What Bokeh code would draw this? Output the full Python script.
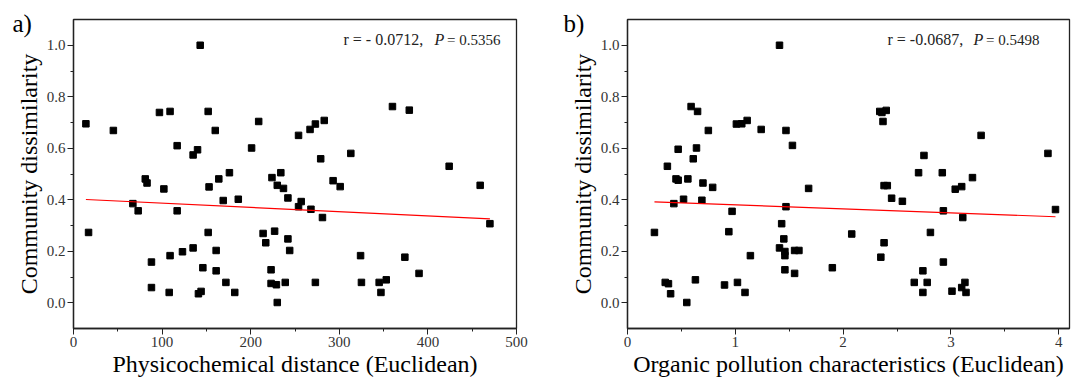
from bokeh.plotting import figure
from bokeh.layouts import row
from bokeh.models import Range1d, Label, FixedTicker, PrintfTickFormatter
from bokeh.core.properties import value
from bokeh.embed import file_html
from bokeh.resources import INLINE

# ---------------- data ----------------
# Panel a: physicochemical distance vs community dissimilarity
a_x = [143, 14, 45, 97, 109, 152, 160, 117, 140, 135,
       209, 201, 81, 83, 102, 153, 164, 176, 169, 186,
       67, 73, 117, 224, 234, 230, 237, 242, 17, 152,
       214, 227, 217, 242, 244, 161, 135, 123, 109, 88,
       146, 161, 172, 182, 88, 108, 141, 144, 223, 223,
       229, 239, 230, 360, 379, 254, 267, 273, 283, 279,
       313, 293, 301, 424, 459, 257, 254, 268, 281, 470,
       324, 374, 390, 273, 325, 345, 353, 347]
a_y = [1.0, 0.695, 0.669, 0.739, 0.743, 0.743, 0.669, 0.610, 0.594, 0.574,
       0.704, 0.601, 0.481, 0.465, 0.442, 0.450, 0.481, 0.505, 0.397, 0.402,
       0.385, 0.357, 0.357, 0.486, 0.505, 0.456, 0.444, 0.407, 0.273, 0.273,
       0.269, 0.278, 0.233, 0.248, 0.203, 0.203, 0.213, 0.198, 0.183, 0.158,
       0.136, 0.124, 0.079, 0.040, 0.059, 0.040, 0.035, 0.044, 0.128, 0.075,
       0.070, 0.079, 0.001, 0.762, 0.748, 0.650, 0.673, 0.694, 0.708, 0.559,
       0.580, 0.474, 0.451, 0.530, 0.456, 0.393, 0.373, 0.363, 0.331, 0.307,
       0.183, 0.177, 0.114, 0.079, 0.079, 0.079, 0.089, 0.040]
a_fit_x = [14, 470]
a_fit_y = [0.401, 0.326]
a_xticks = [0, 100, 200, 300, 400, 500]
a_stat = ["r = - 0.0712,", "P", "= 0.5356"]

# Panel b: organic pollution characteristics vs community dissimilarity
b_x = [1.41, 0.59, 0.65, 0.75, 1.01, 1.06, 1.11, 1.24, 1.47, 1.53,
       0.47, 0.64, 0.61, 0.37, 0.45, 0.47, 0.56, 0.70, 0.79, 1.68,
       0.43, 0.52, 0.69, 0.97, 1.47, 0.25, 0.94, 1.43, 1.45, 1.41,
       1.46, 1.46, 1.55, 1.59, 1.14, 1.46, 1.55, 1.90, 0.35, 0.38,
       0.40, 0.63, 0.55, 0.90, 1.02, 1.09, 2.34, 2.40, 2.37, 3.28,
       3.90, 2.75, 2.70, 2.92, 3.20, 3.04, 3.10, 2.38, 2.41, 2.45,
       2.55, 2.93, 3.11, 3.97, 2.08, 2.81, 2.38, 2.35, 2.93, 2.74,
       2.66, 2.78, 2.74, 3.01, 3.13, 3.10, 3.14, 2.36]
b_y = [1.0, 0.762, 0.743, 0.669, 0.694, 0.695, 0.708, 0.673, 0.669, 0.611,
       0.596, 0.601, 0.559, 0.530, 0.481, 0.476, 0.481, 0.465, 0.448, 0.444,
       0.385, 0.402, 0.398, 0.355, 0.373, 0.273, 0.276, 0.307, 0.248, 0.213,
       0.199, 0.183, 0.203, 0.203, 0.183, 0.128, 0.114, 0.136, 0.079, 0.074,
       0.035, 0.089, 0.001, 0.069, 0.079, 0.040, 0.743, 0.747, 0.704, 0.650,
       0.580, 0.572, 0.505, 0.505, 0.486, 0.441, 0.451, 0.455, 0.455, 0.406,
       0.394, 0.357, 0.331, 0.362, 0.267, 0.273, 0.233, 0.177, 0.158, 0.124,
       0.079, 0.079, 0.040, 0.045, 0.079, 0.059, 0.040, 0.739]
b_fit_x = [0.25, 3.97]
b_fit_y = [0.392, 0.334]
b_xticks = [0, 1, 2, 3, 4]
b_stat = ["r = -0.0687,", "P", "= 0.5498"]

y_ticks = [0.0, 0.2, 0.4, 0.6, 0.8, 1.0]
y_label = "Community dissimilarity"

FONT = "'Liberation Serif', serif"
INK = "#222222"
FRAME_H = 309


def midpoints(t):
    return [(t[i] + t[i + 1]) / 2 for i in range(len(t) - 1)]


def panel(xs, ys, fx, fy, xticks, xmax, xlabel, tag, stat, frame_w,
          bl, br, stat_pos, tag_pos):
    p = figure(frame_width=frame_w, frame_height=FRAME_H,
               min_border_left=bl, min_border_right=br,
               min_border_top=19, min_border_bottom=5,
               x_range=Range1d(0, xmax), y_range=Range1d(-0.1, 1.1),
               output_backend="svg", toolbar_location=None)
    p.xgrid.visible = False
    p.ygrid.visible = False
    p.outline_line_color = INK
    p.outline_line_width = 1.3
    p.background_fill_color = "white"

    p.xaxis.ticker = FixedTicker(ticks=xticks, minor_ticks=midpoints(xticks))
    p.yaxis.ticker = FixedTicker(ticks=y_ticks, minor_ticks=midpoints(y_ticks))
    p.yaxis.formatter = PrintfTickFormatter(format="%.1f")
    for ax in (p.xaxis, p.yaxis):
        ax.axis_line_color = INK
        ax.axis_line_width = 1.3
        ax.major_tick_line_color = INK
        ax.minor_tick_line_color = INK
        ax.major_tick_in = 0
        ax.major_tick_out = 6
        ax.minor_tick_in = 0
        ax.minor_tick_out = 3
        ax.major_label_text_font = FONT
        ax.major_label_text_font_size = "15px"
        ax.major_label_text_font_style = "normal"
        ax.major_label_text_color = "#333333"
        ax.axis_label_text_font = FONT
        ax.axis_label_text_font_size = "24px"
        ax.axis_label_text_font_style = "normal"
        ax.axis_label_text_color = "black"
    p.xaxis.major_label_standoff = 2
    p.xaxis.axis_label_standoff = 1
    p.yaxis.major_label_standoff = 2
    p.yaxis.axis_label_standoff = 2
    p.xaxis.axis_label = xlabel
    p.yaxis.axis_label = y_label

    p.scatter(xs, ys, marker="square", size=6.5, color="black")
    p.line(fx, fy, color="red", line_width=1.2)

    # panel tag at the upper-left, outside the frame (overlay level is not clipped)
    tx, ty = tag_pos
    p.text(x=[(tx / frame_w) * xmax], y=[-0.1 + (ty / FRAME_H) * 1.2], text=[tag],
           text_font=value(FONT), text_font_size="25px", text_color="black",
           text_baseline="alphabetic", level="overlay")

    r_x, p_x, end_x = stat_pos
    common = dict(y=289, x_units="screen", y_units="screen", text_font=FONT,
                  text_color=INK, text_baseline="alphabetic")
    p.add_layout(Label(x=frame_w + r_x, text=stat[0], text_font_size="16px",
                       text_font_style="normal", **common))
    p.add_layout(Label(x=frame_w + p_x, text=stat[1], text_font_size="16px",
                       text_font_style="italic", **common))
    p.add_layout(Label(x=frame_w + end_x, text=stat[2], text_font_size="15px",
                       text_font_style="normal", text_align="right", **common))
    return p


pa = panel(a_x, a_y, a_fit_x, a_fit_y, a_xticks, 500,
           "Physicochemical distance (Euclidean)", "a)", a_stat,
           443, 73, 37, (-173, -82, -16), (-61, 305))
pb = panel(b_x, b_y, b_fit_x, b_fit_y, b_xticks, 4.1,
           "Organic pollution characteristics (Euclidean)", "b)", b_stat,
           442, 74, 4, (-182, -96, -30), (-64, 305))

layout = row(pa, pb)
open("out.html", "w").write(file_html(layout, INLINE))
